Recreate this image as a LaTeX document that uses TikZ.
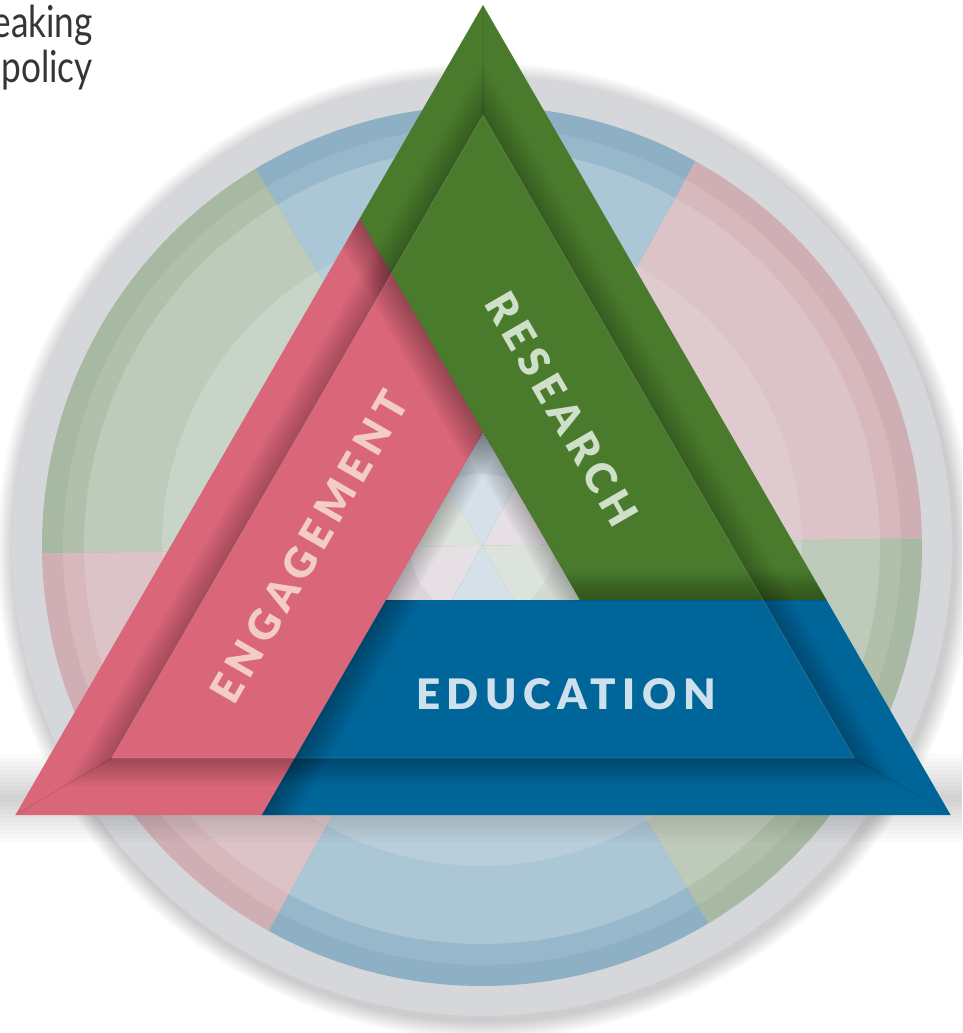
\documentclass[tikz,border=0pt]{standalone}
\usepackage{fontspec}
\setmainfont{Lato}
\newfontfamily\labfont{Lato Black}[LetterSpace=15.5]
\usetikzlibrary{calc}
\definecolor{ringgray}{HTML}{D5D7DB}
\definecolor{bandpink}{HTML}{D96679}
\definecolor{bandgreen}{HTML}{4A7B2D}
\definecolor{bandblue}{HTML}{00669A}
\definecolor{txtpink}{HTML}{F3CCC3}
\definecolor{txtgreen}{HTML}{CFE0C8}
\definecolor{txtblue}{HTML}{CDE0EB}
\definecolor{txtgray}{HTML}{353535}
\definecolor{pinkA}{HTML}{D0AFB4}
\definecolor{pinkB}{HTML}{D7B8BD}
\definecolor{pinkC}{HTML}{DCC3C7}
\definecolor{pinkD}{HTML}{DFCBCF}
\definecolor{pinkE}{HTML}{DDD5DA}
\definecolor{pinkF}{HTML}{E6E0E4}
\definecolor{blueA}{HTML}{8DB0C4}
\definecolor{blueB}{HTML}{97B8CB}
\definecolor{blueC}{HTML}{ABC6D5}
\definecolor{blueD}{HTML}{B8CEDA}
\definecolor{blueE}{HTML}{C8D4DF}
\definecolor{blueF}{HTML}{D6E0E8}
\definecolor{greenA}{HTML}{A7B8A3}
\definecolor{greenB}{HTML}{B0C0AA}
\definecolor{greenC}{HTML}{BFCBBA}
\definecolor{greenD}{HTML}{C8D4C8}
\definecolor{greenE}{HTML}{D3DAD3}
\definecolor{greenF}{HTML}{DCE2DC}
\newcommand{\edgeshade}[3]{\foreach \ii in {1,...,10}{\draw[black,opacity=#3,line width={\ii*#2/5}] #1;}}
\tikzset{
  bandlabel/.style={font=\labfont\fontsize{42}{42}\selectfont, inner sep=0pt},
  sidetext/.style={font=\fontsize{44}{48}\selectfont, text=txtgray, inner sep=0pt, anchor=base east},
}
\begin{document}
\begin{tikzpicture}[x=1pt,y=-1pt]
\useasboundingbox (0,0) rectangle (962,1033);
\clip (0,0) rectangle (962,1033);
\fill[white] (0,0) rectangle (962,1033);
\coordinate (C) at (482,546);
% ring shadow
\foreach \k in {1,...,10} \fill[black,opacity=0.02] (485,551) circle ({470+1.8*\k});
\fill[ringgray] (C) circle (470);
% sectors with rings
\foreach \a/\sfam in {1/pink,61/blue,121/green,181/pink,241/blue,301/green}{
  \foreach \r/\slev in {440/A,419/B,398/C,320/D,200/E,72/F}{
    \fill[\sfam\slev] (C) -- ++({-\a}:\r) arc[start angle={-\a}, end angle={-\a-60}, radius=\r] -- cycle;
  }
}
% floor shadow
\foreach \h in {4,8,...,44} \fill[black,opacity=0.016] (0,{798-\h}) rectangle (962,{798+\h});
% triangle geometry
\coordinate (T) at (483,5);
\coordinate (BL) at (15.4,815);
\coordinate (BR) at (950.6,815);
\coordinate (IT) at (483,115);
\coordinate (IBL) at (111.8,758);
\coordinate (IBR) at (854.2,758);
\coordinate (H) at (483,432);
\coordinate (HL) at (386,600);
\coordinate (HR) at (580,600);
\coordinate (A) at (359.7,218.5);
\coordinate (G2) at (826.5,600);
\coordinate (P2) at (261.9,815);
% bands
\fill[bandpink] (A) -- (H) -- (P2) -- (BL) -- cycle;
\fill[bandgreen] (T) -- (A) -- (HR) -- (G2) -- cycle;
\fill[bandblue] (HL) -- (G2) -- (BR) -- (P2) -- cycle;
% bevel shading in the frame
\begin{scope}
  \clip (T) -- (IT) -- (IBL) -- (BL) -- cycle;
  \edgeshade{($(IT)!-0.3!(IBL)$) -- ($(IBL)!-0.3!(IT)$)}{26}{0.022}
\end{scope}
\begin{scope}
  \clip (BL) -- (IBL) -- (IBR) -- (BR) -- cycle;
  \edgeshade{($(IBL)!-0.3!(IBR)$) -- ($(IBR)!-0.3!(IBL)$)}{28}{0.028}
\end{scope}
\begin{scope}
  \clip (BR) -- (IBR) -- (IT) -- (T) -- cycle;
  \edgeshade{($(IBR)!-0.3!(IT)$) -- ($(IT)!-0.3!(IBR)$)}{26}{0.022}
\end{scope}
% overlap shadows
\begin{scope}
  \clip (A) -- (H) -- (P2) -- (BL) -- cycle;
  \edgeshade{($(A)!-0.3!(H)$) -- ($(H)!-0.3!(A)$)}{30}{0.03}
\end{scope}
\begin{scope}
  \clip (T) -- (A) -- (HR) -- (G2) -- cycle;
  \edgeshade{($(HR)!-0.3!(G2)$) -- ($(G2)!-0.3!(HR)$)}{30}{0.03}
\end{scope}
\begin{scope}
  \clip (HL) -- (G2) -- (BR) -- (P2) -- cycle;
  \edgeshade{($(HL)!-0.3!(P2)$) -- ($(P2)!-0.3!(HL)$)}{30}{0.03}
\end{scope}
% hole shadow
\begin{scope}
  \clip (H) -- (HL) -- (HR) -- cycle;
  \edgeshade{($(H)!-0.3!(HL)$) -- ($(HL)!-0.3!(H)$)}{22}{0.025}
  \edgeshade{($(H)!-0.3!(HR)$) -- ($(HR)!-0.3!(H)$)}{22}{0.025}
\end{scope}
% highlights and mitres
\draw[white,opacity=0.15,line width=0.8pt] (IT) -- (IBL) -- (IBR) -- cycle;
\draw[black,opacity=0.1,line width=0.8pt] (T) -- (IT) (BL) -- (IBL) (BR) -- (IBR);
% labels
\node[bandlabel, text=txtpink, rotate=60] (eng) at (309,547) {ENGAGEMENT};
\node[bandlabel, text=txtgreen, rotate=-60] (res) at (562,409) {RESEARCH};
\node[bandlabel, text=txtblue] (edu) at (566,694) {EDUCATION};
% cut-off side text
\node[sidetext] (lineA) at (93,38) {\scalebox{0.8}[1]{eaking}};
\node[sidetext] (lineB) at (93,82) {\scalebox{0.8}[1]{policy}};
\end{tikzpicture}
\end{document}
